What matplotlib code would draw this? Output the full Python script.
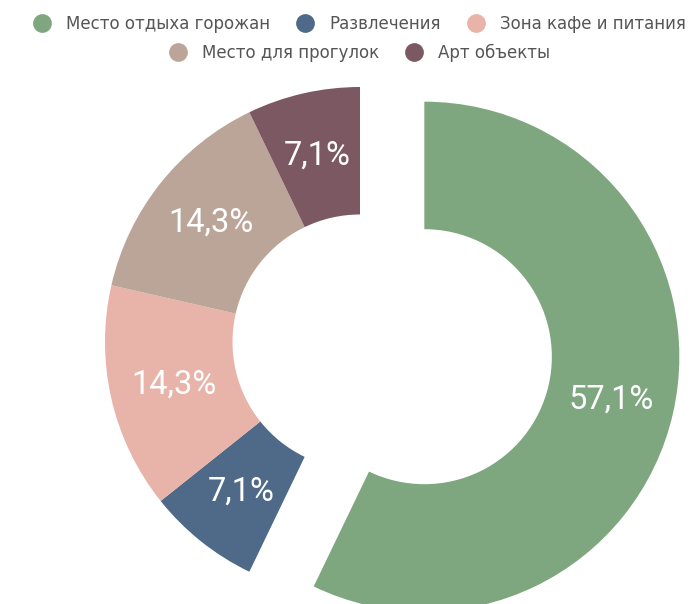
import matplotlib

matplotlib.use("Agg")
import matplotlib.pyplot as plt
from matplotlib.lines import Line2D

categories = ["Место отдыха горожан", "Развлечения", "Зона кафе и питания",
              "Место для прогулок", "Арт объекты"]
values = [8, 1, 2, 2, 1]
colors = ["#7ea67f", "#4e6a88", "#e8b3a8", "#bba598", "#7c5962"]

plt.rcParams["font.family"] = ["Roboto", "DejaVu Sans"]

W, H = 699, 604
fig = plt.figure(figsize=(W / 100, H / 100), dpi=100)
ax = fig.add_axes([0, 0, 1, 1])
ax.set_xlim(0, W)
ax.set_ylim(0, H)
ax.set_aspect("equal")
ax.axis("off")

R = 255
# explode is in data units here (radius is in pixels)
wedges, texts, autotexts = ax.pie(
    values, colors=colors, startangle=90, counterclock=False,
    center=(360, H - 342), radius=R, explode=[66, 0, 0, 0, 0],
    wedgeprops=dict(width=R * 0.5, linewidth=0),
    autopct=lambda p: f"{p:.1f}%".replace(".", ","), pctdistance=0.75,
    textprops=dict(color="white", fontsize=23.5))
ax.set_xlim(0, W)
ax.set_ylim(0, H)

def handle(c):
    return Line2D([], [], marker="o", color="none", markerfacecolor=c,
                  markeredgecolor="none", markersize=13.5)

leg_font = dict(family=["DejaVu Sans"], size=12)
leg_kw = dict(frameon=False, prop=leg_font, handletextpad=0.95, columnspacing=1.6,
              labelcolor="#555555", handlelength=1.0, borderpad=0, borderaxespad=0)
l1 = fig.legend([handle(c) for c in colors[:3]], categories[:3], ncol=3,
                loc="center", bbox_to_anchor=(360 / W, 1 - 24 / H), **leg_kw)
l2 = fig.legend([handle(c) for c in colors[3:]], categories[3:], ncol=2,
                loc="center", bbox_to_anchor=(360 / W, 1 - 53 / H), **leg_kw)

fig.savefig("out.png", dpi=100, facecolor="white")
